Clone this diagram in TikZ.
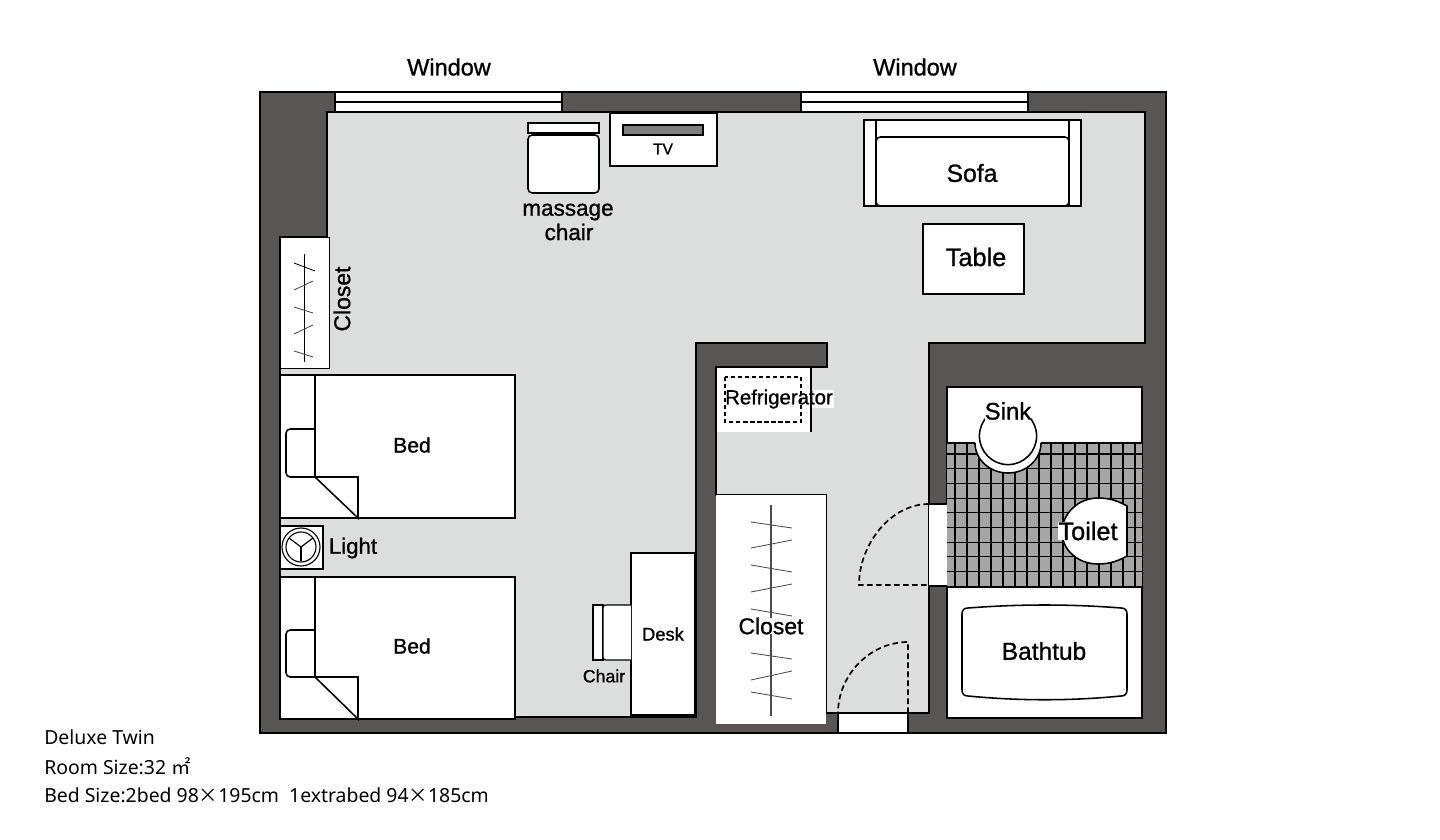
\documentclass[tikz,border=0pt]{standalone}
\usepackage{fontspec}
\setmainfont{Liberation Sans}
\newfontfamily\labelfont[FakeBold=1]{Liberation Sans}
\newfontfamily\notefont{Noto Sans}
\newfontfamily\cjkfont{Noto Sans CJK JP}

\definecolor{wallgrey}{HTML}{595555}
\definecolor{floorgrey}{HTML}{DCDDDD}
\definecolor{tilegrey}{HTML}{A6A6A6}
\definecolor{tvgrey}{HTML}{7F7F7F}

\tikzset{
	outline/.style={draw=black,line width=1.1pt},
	furniture/.style={outline,fill=white},
	thinline/.style={draw=black,line width=0.8pt},
	hanger/.style={draw=black!70,line width=0.6pt},
	doorswing/.style={draw=black,line width=1.2pt,dash pattern=on 4pt off 2.4pt},
	fridgedash/.style={draw=black,line width=1.1pt,dash pattern=on 3pt off 2pt},
	lab/.style={font=\labelfont\fontsize{#1}{#1}\selectfont,inner sep=0.5pt},
	note/.style={font=\notefont\fontsize{13.8}{13.8}\selectfont,anchor=west,inner sep=0pt}
}

\begin{document}
\begin{tikzpicture}[x=0.025cm,y=-0.025cm]
\useasboundingbox (0,0) rectangle (1440,840);

\draw [outline,fill=wallgrey] (260,92) rectangle (1166,733);

\draw [outline,fill=floorgrey] (327,112) -- (1145,112) -- (1145,343) -- (929,343) -- (929,713) -- (826,713) -- (826,495) -- (716,495) -- (716,367) -- (827,367) -- (827,343) -- (696,343) -- (696,717) -- (280,717) -- (280,237) -- (327,237) -- cycle;

\draw [furniture] (335,92) rectangle (562,112);
\draw [thinline] (335,102) -- (562,102);
\draw [furniture] (801,92) rectangle (1028,112);
\draw [thinline] (801,102) -- (1028,102);
\draw (449,67) node[lab=16.7] (window one) {Window};
\draw (915,67) node[lab=16.7] (window two) {Window};

\draw [furniture] (528,123) rectangle (599,133);
\draw [furniture,rounded corners=3pt] (528,135) rectangle (599,193);
\draw (568,212) node[lab=16] (massage) {massage};
\draw (569,232) node[lab=16] (massage chair) {chair};

\draw [furniture,line width=0.8pt] (610,113) rectangle (717,166);
\draw [thinline,fill=tvgrey] (623,125) rectangle (703,135);
\draw (663,149) node[lab=11] (tv) {TV};

\draw [furniture] (864,120) rectangle (1081,206);
\draw [outline] (876,120) -- (876,206);
\draw [outline] (1069,120) -- (1069,206);
\draw [furniture,rounded corners=3pt] (876,137) rectangle (1069,206);
\draw (972,173) node[lab=17.6] (sofa) {Sofa};

\draw [furniture] (923,224) rectangle (1024,294);
\draw (976,257) node[lab=18] (table) {Table};

\draw [furniture,line width=0.7pt] (280,237) rectangle (329,368);
\draw [hanger,draw=black] (304,254) -- (304,362);
\draw [hanger,draw=black] (294,263) -- (315,271);
\foreach \ya/\yb in {290/281,307/313,334/325,351/357} {
	\draw [hanger] (294,\ya) -- (313,\yb);
}
\draw (342,299) node[lab=16.3,rotate=90] (closet one) {Closet};

\draw [furniture] (280,375) rectangle (515,518);
\draw [outline,rounded corners=3pt,fill=white] (315,429) -- (286,429) -- (286,477) -- (315,477);
\draw [outline] (315,375) -- (315,477) -- (358,518) -- (358,477) -- (315,477);
\draw (412,445) node[lab=15] (bed one) {Bed};

\draw [furniture,line width=0.8pt] (280,526) rectangle (323,569);
\draw [thinline] (301,547) circle (19);
\draw [thinline] (301,547) circle (15);
\draw [thinline] (301,547) -- (289,538);
\draw [thinline] (301,547) -- (313,538);
\draw [thinline] (301,547) -- (301,561);
\draw (353,548) node[lab=15.8] (light) {Light};

\draw [furniture] (280,577) rectangle (515,719);
\draw [outline,rounded corners=3pt,fill=white] (315,630) -- (286,630) -- (286,677) -- (315,677);
\draw [outline] (315,577) -- (315,677) -- (358,719) -- (358,677) -- (315,677);
\draw (412,646) node[lab=15] (bed two) {Bed};

\draw [furniture,line width=0.8pt] (631,553) rectangle (695,715);
\draw (663,634) node[lab=13] (desk) {Desk};
\draw [furniture,line width=0.8pt] (593,605) rectangle (603,660);
\draw [furniture,line width=0.8pt,rounded corners=2pt] (631,605) -- (603,605) -- (603,660) -- (631,660);
\draw (604,676) node[lab=12.6] (chair) {Chair};

\fill [white] (717,368) rectangle (811,432);
\fill [white] (811,390) rectangle (834,408);
\draw [outline] (811,367) -- (811,432);
\draw [fridgedash] (725,377) rectangle (801,422);
\draw (779,399) node[lab=14.5] (fridge) {Refrigerator};

\fill [white] (716,495) rectangle (826,724);
\draw [hanger,line width=0.8pt] (771,505) -- (771,716);
\foreach \ya/\yb in {522/528,548/540,565/572,592/584,609/616,653/659,680/671,692/699} {
	\draw [hanger] (751,\ya) -- (792,\yb);
}
\draw (771,626) node[lab=16.3,fill=white,inner sep=0pt] (closet two) {Closet};

\draw [furniture] (947,387) rectangle (1142,718);
\fill [tilegrey] (947,443) rectangle (1142,587);
\foreach \gx in {955,967,...,1135} {
	\draw [thinline] (\gx,443) -- (\gx,587);
}
\foreach \k in {0,...,8} {
	\draw [thinline] (947,454+\k*14.7) -- (1142,454+\k*14.7);
}
\draw [outline] (947,443) -- (1142,443);
\draw [outline] (947,587) -- (1142,587);
\fill [white] (975,442) rectangle (1041,444);
\draw [outline,fill=white] (975,443) arc (180:0:33 and 30);
\draw [outline,fill=white] (1008,436) circle (28.6);
\draw (1008,411) node[lab=17,inner sep=0pt,fill=white] (sink) {Sink};

\draw [furniture] (1127,506) -- (1127,556) .. controls (1115,563) and (1105,564) .. (1098,564) .. controls (1078,564) and (1062,550) .. (1062,532) .. controls (1062,514) and (1078,498) .. (1098,498) .. controls (1105,498) and (1115,499) .. (1127,506) -- cycle;
\draw (1088,531) node[lab=18,fill=white,inner sep=0pt] (toilet) {Toilet};

\draw [furniture] (968,608) .. controls (1020,604) and (1070,604) .. (1121,608) .. controls (1125,608) and (1127,610) .. (1127,614) -- (1127,690) .. controls (1127,694) and (1125,696) .. (1121,696) .. controls (1070,701) and (1020,701) .. (968,696) .. controls (964,696) and (962,694) .. (962,690) -- (962,614) .. controls (962,610) and (964,608) .. (968,608) -- cycle;
\draw (1044,651) node[lab=17.4] (bathtub) {Bathtub};

\fill [white] (929,504) rectangle (947,586);
\draw [outline] (929,504) -- (947,504);
\draw [outline] (929,586) -- (947,586);
\draw [doorswing] (929,504) .. controls (890,504) and (859,545) .. (859,585) -- (929,585);

\draw [furniture] (838,713) rectangle (908,733);
\draw [doorswing] (908,713) -- (908,642) .. controls (870,642) and (838,675) .. (838,713);

\draw (44,737) node[note] (room name) {Deluxe Twin};
\draw (44,766) node[note] (room size) {Room Size:32 {\cjkfont ㎡}};
\draw (44,795) node[note] (bed size) {Bed Size:2bed 98{\cjkfont ×}195cm\ \ 1extrabed 94{\cjkfont ×}185cm};

\end{tikzpicture}
\end{document}
